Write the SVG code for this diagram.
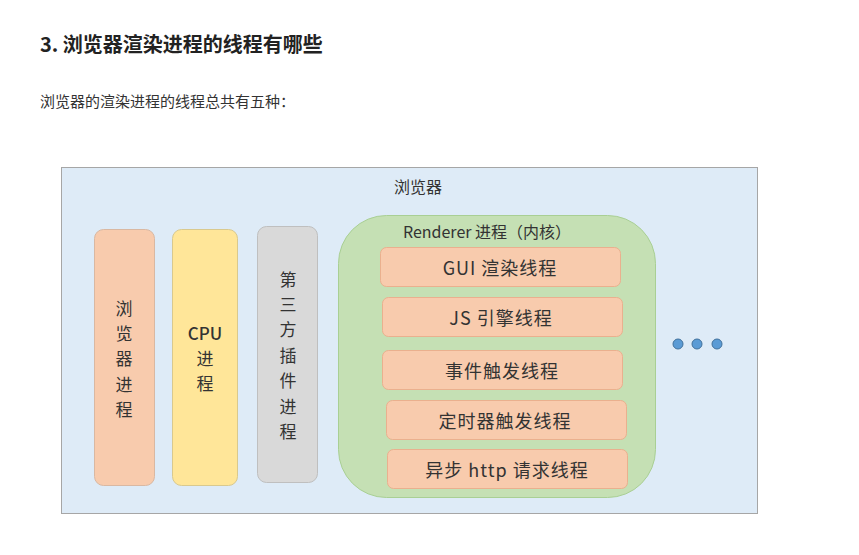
<svg xmlns="http://www.w3.org/2000/svg" width="859" height="555" viewBox="0 0 859 555">
<style>
text{font-family:"Noto Sans CJK SC","Noto Sans",sans-serif;fill:#333;}
.lbl{font-size:17px;text-anchor:middle;dominant-baseline:central;}
.tt{font-size:18px;letter-spacing:1px;}
.th{fill:#f8cbad;stroke:#eab08e;stroke-width:1;}
.dot{fill:#5b9bd5;stroke:#41719c;stroke-width:1;}
</style>
<rect width="859" height="555" fill="#ffffff"/>
<text x="40" y="52" style="font-size:20px;font-weight:bold;fill:#222">3. 浏览器渲染进程的线程有哪些</text>
<text x="40" y="107" style="font-size:15px;fill:#333">浏览器的渲染进程的线程总共有五种：</text>

<g id="browser">
<rect x="61.5" y="167.5" width="696" height="346" fill="#deebf7" stroke="#a6a6a6" stroke-width="1"/>
<text x="418" y="186" class="lbl" style="font-size:16px">浏览器</text>
</g>

<g id="browser-process">
<rect x="94.5" y="229.5" width="60" height="256" rx="9" fill="#f8cbad" stroke="#d9b8a2"/>
<text class="lbl" x="124" y="307">浏</text>
<text class="lbl" x="124" y="332">览</text>
<text class="lbl" x="124" y="357">器</text>
<text class="lbl" x="124" y="383">进</text>
<text class="lbl" x="124" y="408">程</text>
</g>

<g id="cpu-process">
<rect x="172.5" y="229.5" width="65" height="256" rx="9" fill="#ffe699" stroke="#d9c98e"/>
<text class="lbl" x="205" y="332" style="font-weight:500">CPU</text>
<text class="lbl" x="205" y="357">进</text>
<text class="lbl" x="205" y="382">程</text>
</g>

<g id="plugin-process">
<rect x="257.5" y="226.5" width="60" height="256" rx="9" fill="#d9d9d9" stroke="#bfbfbf"/>
<text class="lbl" x="288" y="278">第</text>
<text class="lbl" x="288" y="303">三</text>
<text class="lbl" x="288" y="328">方</text>
<text class="lbl" x="288" y="354">插</text>
<text class="lbl" x="288" y="379">件</text>
<text class="lbl" x="288" y="405">进</text>
<text class="lbl" x="288" y="430">程</text>
</g>

<g id="renderer-process">
<rect x="338.5" y="215.5" width="317" height="282" rx="48" fill="#c5e0b4" stroke="#a9cf94"/>
<text class="lbl" x="487" y="231" style="font-size:16px">Renderer 进程（内核）</text>
</g>

<g id="gui-thread">
<rect class="th" x="380.5" y="247.5" width="240" height="39" rx="6"/>
<text class="lbl tt" x="500" y="267">GUI 渲染线程</text>
</g>
<g id="js-thread">
<rect class="th" x="382.5" y="297.5" width="240" height="39" rx="6"/>
<text class="lbl tt" x="501" y="317">JS 引擎线程</text>
</g>
<g id="event-thread">
<rect class="th" x="382.5" y="350.5" width="240" height="39" rx="6"/>
<text class="lbl tt" x="502" y="370">事件触发线程</text>
</g>
<g id="timer-thread">
<rect class="th" x="386.5" y="400.5" width="240" height="39" rx="6"/>
<text class="lbl tt" x="505" y="420">定时器触发线程</text>
</g>
<g id="http-thread">
<rect class="th" x="387.5" y="449.5" width="240" height="39" rx="6"/>
<text class="lbl tt" x="507" y="469">异步 http 请求线程</text>
</g>

<g id="more">
<circle class="dot" cx="678" cy="344" r="5"/>
<circle class="dot" cx="697" cy="344" r="5"/>
<circle class="dot" cx="717" cy="344" r="5"/>
</g>
<g id="connectors"></g>
</svg>
